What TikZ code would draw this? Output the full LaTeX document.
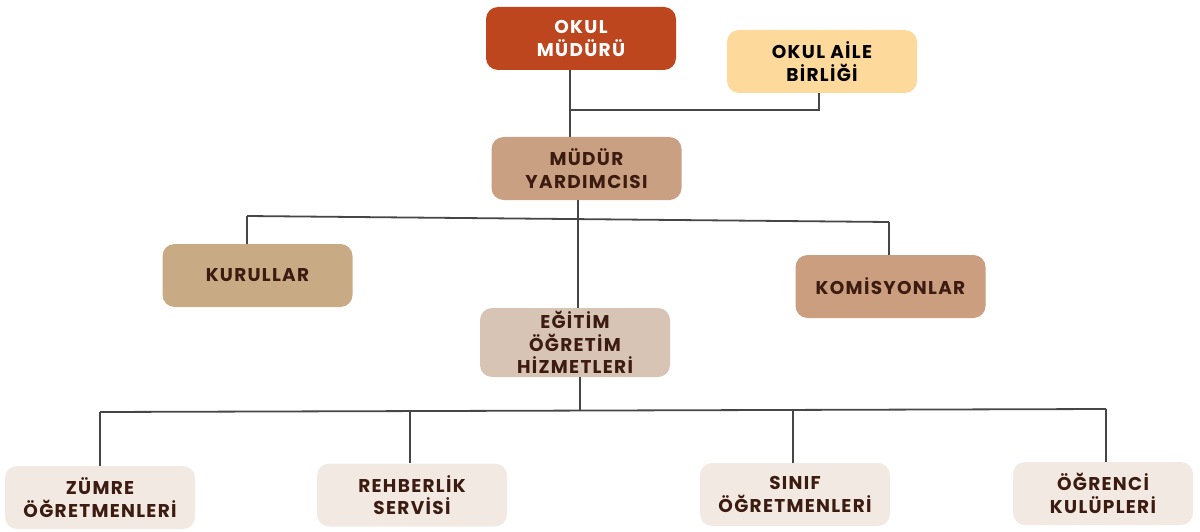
\documentclass[tikz,border=0pt]{standalone}
\usepackage{fontspec}
\newfontfamily\boxfont{Poppins}[LetterSpace=7]
\usetikzlibrary{positioning}
\definecolor{okulred}{RGB}{190, 70, 30}
\definecolor{aileyellow}{RGB}{253, 217, 155}
\definecolor{yrdbrown}{RGB}{202, 160, 130}
\definecolor{kurtan}{RGB}{200, 170, 132}
\definecolor{komtan}{RGB}{202, 158, 126}
\definecolor{egtbeige}{RGB}{215, 196, 180}
\definecolor{lowcream}{RGB}{242, 234, 226}
\definecolor{darktext}{RGB}{60, 28, 16}
\definecolor{linegray}{RGB}{70, 70, 70}
\tikzset{
  birim/.style = {rectangle, rounded corners = 12pt, minimum width = 190pt,
    minimum height = 63pt, align = center, inner sep = 1pt,
    text = darktext, font = \boxfont\bfseries\fontsize{18.5}{22.5}\selectfont},
  conn/.style = {draw = linegray, line width = 1.8pt}
}
\begin{document}
\begin{tikzpicture}[x = 1pt, y = -1pt]
\useasboundingbox (0,0) rectangle (1200,532);
% ust kademe
\node[birim, fill = okulred, text = white] (okm) at (581,38.5) {OKUL\\MÜDÜRÜ};
\node[birim, fill = aileyellow, text = black] (oab) at (822,61.5) {OKUL AİLE\\BİRLİĞİ};
\node[birim, fill = yrdbrown] (myrd) at (586.5,168.5) {MÜDÜR\\YARDIMCISI};
% orta kademe
\node[birim, fill = kurtan] (kur) at (257.5,275.5) {KURULLAR};
\node[birim, fill = komtan] (kom) at (890.5,286.5) {KOMİSYONLAR};
\node[birim, fill = egtbeige, minimum height = 69pt] (egt) at (575,342.5) {EĞİTİM\\ÖĞRETİM\\HİZMETLERİ};
% alt kademe
\node[birim, fill = lowcream] (zum) at (100,497.5) {ZÜMRE\\ÖĞRETMENLERİ};
\node[birim, fill = lowcream] (reh) at (412,495) {REHBERLİK\\SERVİSİ};
\node[birim, fill = lowcream] (sin) at (795,494.5) {SINIF\\ÖĞRETMENLERİ};
\node[birim, fill = lowcream, minimum width = 180pt] (ogr) at (1103,493.5) {ÖĞRENCİ\\KULÜPLERİ};
% baglantilar
\coordinate (j1) at (570,110);
\draw[conn] (okm.south -| j1) -- (myrd.north -| j1);
\draw[conn] (j1) -| (oab.south -| 819,0);
\coordinate (j2) at (578,218);
\coordinate (b1) at (247,216);
\coordinate (b2) at (889,222);
\draw[conn] (b1) -- (b2);
\draw[conn] (b1) -- (kur.north -| b1);
\draw[conn] (b2) -- (kom.north -| b2);
\draw[conn] (myrd.south -| j2) -- (egt.north -| j2);
\coordinate (j3) at (580,410);
\coordinate (c1) at (100,412);
\coordinate (c2) at (1106,409);
\draw[conn] (c1) -- (c2);
\draw[conn] (egt.south -| j3) -- (j3);
\draw[conn] (c1) -- (zum.north -| c1);
\draw[conn] (410,411) -- (reh.north -| 410,0);
\draw[conn] (793,410) -- (sin.north -| 793,0);
\draw[conn] (c2) -- (ogr.north -| c2);
\end{tikzpicture}
\end{document}
